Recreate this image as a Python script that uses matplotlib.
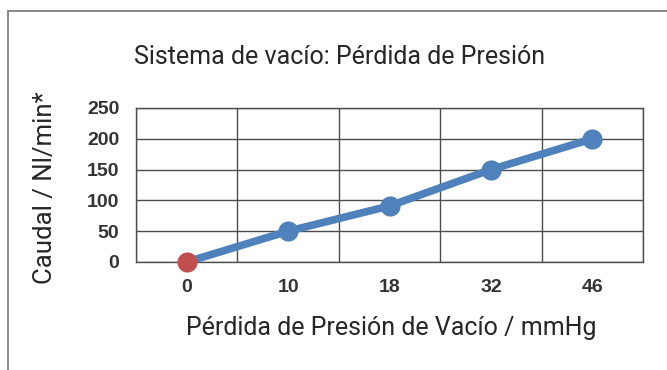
import matplotlib.pyplot as plt
from matplotlib.patches import Rectangle

categories = ["0", "10", "18", "32", "46"]
flow = [0, 50, 91, 150, 200]
y_ticks = [0, 50, 100, 150, 200, 250]

W, H = 667, 370
fig = plt.figure(figsize=(W / 100, H / 100), dpi=100)
fig.patch.set_facecolor("white")

# outer frame
fig.patches.append(Rectangle((8 / W, -0.1), 1.2, (H - 11) / H + 0.1,
                             transform=fig.transFigure, fill=False,
                             edgecolor="#7f7f7f", linewidth=1.3))

left, right, top, bottom = 136, 643, 108, 262
ax = fig.add_axes([left / W, 1 - bottom / H, (right - left) / W, (bottom - top) / H])

x = list(range(len(categories)))
ax.plot(x, flow, color="#4f81bd", linewidth=5.5, solid_capstyle="round",
        zorder=3, clip_on=False)
ax.scatter(x[1:], flow[1:], s=210, color="#4f81bd", zorder=4, linewidths=0,
           clip_on=False)
ax.scatter(x[:1], flow[:1], s=210, color="#c0504d", zorder=5, linewidths=0,
           clip_on=False)

ax.set_xlim(-0.5, len(categories) - 0.5)
ax.set_ylim(0, 250)
ax.set_xticks(x)
ax.set_xticklabels(categories)
ax.set_yticks(y_ticks)
ax.set_xticks([i - 0.5 for i in range(len(categories) + 1)], minor=True)
ax.grid(False)
ax.grid(which="major", axis="y", color="#4d4d4d", linewidth=1)
ax.grid(which="minor", axis="x", color="#4d4d4d", linewidth=1)
ax.set_axisbelow(True)
for s in ax.spines.values():
    s.set_color("#4d4d4d")
    s.set_linewidth(1)
ax.tick_params(which="both", length=0)
ax.tick_params(axis="x", pad=12)
ax.tick_params(axis="y", pad=12)
for lab in ax.get_xticklabels() + ax.get_yticklabels():
    lab.set_fontfamily("Liberation Sans")
    lab.set_fontweight("bold")
    lab.set_fontsize(14)
    lab.set_color("#333333")

fig.text(340 / W, 1 - 57 / H, "Sistema de vacío: Pérdida de Presión",
         ha="center", va="center", fontsize=18, family="Roboto", color="#262626")
fig.text(391 / W, 1 - 328 / H, "Pérdida de Presión de Vacío / mmHg",
         ha="center", va="center", fontsize=18, family="Roboto", color="#262626")
fig.text(45 / W, 1 - 188 / H, "Caudal / Nl/min*", rotation=90,
         ha="center", va="center", fontsize=18.5, family="Roboto", color="#262626")

fig.savefig("out.png", dpi=100)
